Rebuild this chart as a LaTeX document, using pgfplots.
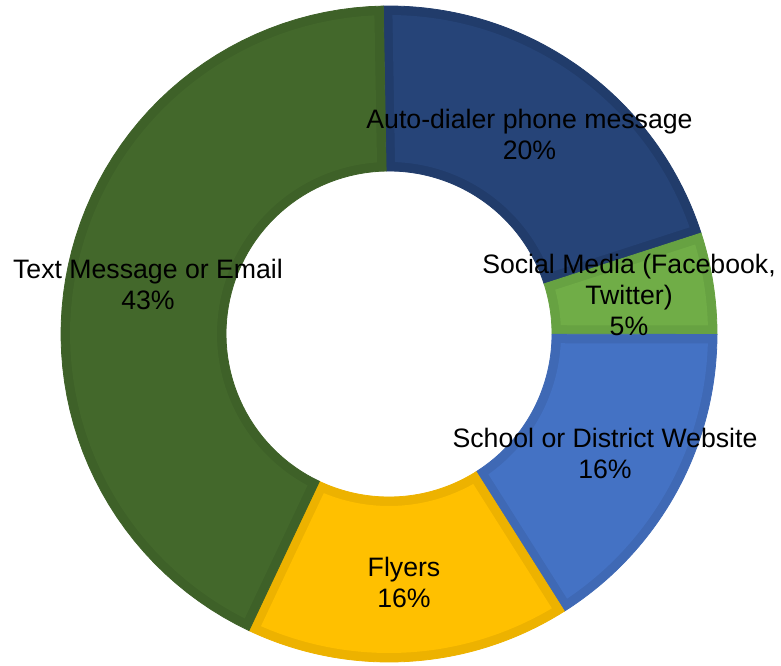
\documentclass[border=0pt]{standalone}
\usepackage{pgfplots}
\usepackage{pgfplotstable}
\pgfplotsset{compat=1.18}
\usepackage{fontspec}
\setmainfont{Liberation Sans}

\definecolor{autoF}{HTML}{264478}\definecolor{autoB}{HTML}{213C6B}
\definecolor{socF}{HTML}{70AD47}\definecolor{socB}{HTML}{67A242}
\definecolor{schF}{HTML}{4472C4}\definecolor{schB}{HTML}{3F69B5}
\definecolor{flyF}{HTML}{FFC000}\definecolor{flyB}{HTML}{EDB200}
\definecolor{txtF}{HTML}{43682B}\definecolor{txtB}{HTML}{3E6128}

% share of each channel, in percent (clockwise from the top)
\pgfplotstableread{
id value
auto 20.3
social 5.0
school 16.0
flyers 16.0
text 42.7
}\donutdata

\pgfplotstablegetelem{0}{value}\of\donutdata \let\vA\pgfplotsretval
\pgfplotstablegetelem{1}{value}\of\donutdata \let\vB\pgfplotsretval
\pgfplotstablegetelem{2}{value}\of\donutdata \let\vC\pgfplotsretval
\pgfplotstablegetelem{3}{value}\of\donutdata \let\vD\pgfplotsretval
\pgfplotstablegetelem{4}{value}\of\donutdata \let\vE\pgfplotsretval

\pgfmathsetmacro\aA{91}
\pgfmathsetmacro\aB{\aA-3.6*\vA}
\pgfmathsetmacro\aC{\aB-3.6*\vB}
\pgfmathsetmacro\aD{\aC-3.6*\vC}
\pgfmathsetmacro\aE{\aD-3.6*\vD}
\pgfmathsetmacro\aF{\aE-3.6*\vE}

\def\cx{389}\def\cy{331}
% one ring segment: start angle, end angle, outer r, inner r, outer inset angle, inner inset angle, style
\newcommand{\ringseg}[7]{%
  \addplot[#7, variable=\t, samples at={0,1,...,121}]
  ({\cx+((\t<60.5)?(#3):(#4))*cos(((\t<60.5)?((#1-#5)+((#2+#5)-(#1-#5))*\t/60):((#2+#6)+((#1-#6)-(#2+#6))*(\t-61)/60)))},
   {\cy+((\t<60.5)?(#3):(#4))*sin(((\t<60.5)?((#1-#5)+((#2+#5)-(#1-#5))*\t/60):((#2+#6)+((#1-#6)-(#2+#6))*(\t-61)/60)))}) -- cycle;
}
\newcommand{\donutseg}[4]{%
  \ringseg{#1}{#2}{328}{163}{0}{0}{fill=#4, draw=#4, line width=0.6pt}%
  \ringseg{#1}{#2}{319}{172}{1.617}{3.0}{fill=#3, draw=none}%
}
\tikzset{lbl/.style={align=center, font=\fontsize{20}{23.25}\selectfont, text=black, inner sep=0pt}}

\begin{document}
\begin{tikzpicture}
\begin{axis}[
  scale only axis, width=585.75pt, height=498.75pt,
  xmin=0, xmax=781, ymin=0, ymax=665,
  axis lines=box, axis line style={draw=none}, ticks=none, clip=false,
]
\donutseg{\aA}{\aB}{autoF}{autoB}
\donutseg{\aB}{\aC}{socF}{socB}
\donutseg{\aC}{\aD}{schF}{schB}
\donutseg{\aD}{\aE}{flyF}{flyB}
\donutseg{\aE}{\aF}{txtF}{txtB}

\node[lbl] at (axis cs:529.5,530.5) {Auto-dialer phone message\\20\%};
\node[lbl] at (axis cs:629,370) {Social Media (Facebook,\\Twitter)\\5\%};
\node[lbl] at (axis cs:605,211.5) {School or District Website\\16\%};
\node[lbl] at (axis cs:404,82.5) {Flyers\\16\%};
\node[lbl] at (axis cs:148,380.5) {Text Message or Email\\43\%};
\end{axis}
\end{tikzpicture}
\end{document}
